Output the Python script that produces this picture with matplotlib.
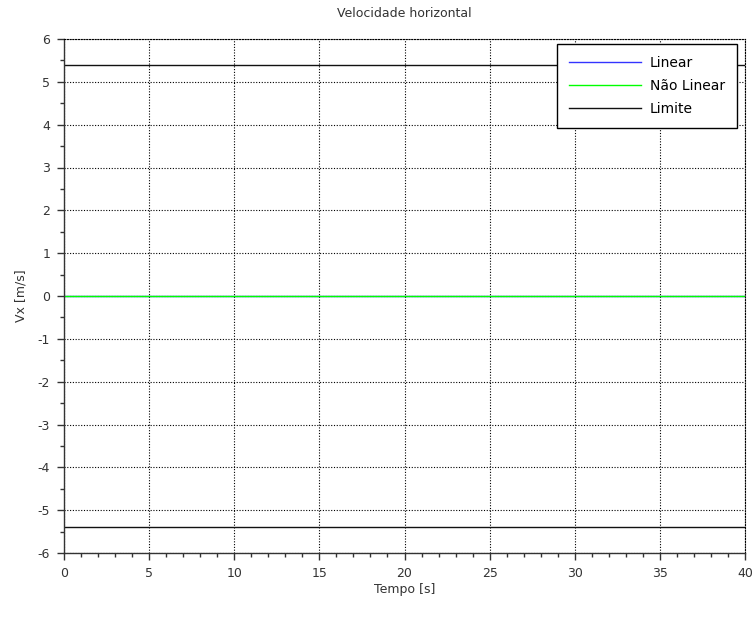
import matplotlib
matplotlib.use("Agg")
import matplotlib.pyplot as plt
from matplotlib.ticker import MultipleLocator

# Horizontal velocity data
tempo = [0, 40]
vx_linear = [0.0, 0.0]
vx_nao_linear = [0.0, 0.0]
vx_limite = 5.4

x_ticks = [0, 5, 10, 15, 20, 25, 30, 35, 40]
y_ticks = [-6, -5, -4, -3, -2, -1, 0, 1, 2, 3, 4, 5, 6]

plt.rcParams['font.family'] = ['DejaVu Sans']
plt.rcParams['axes.unicode_minus'] = False

fig = plt.figure(figsize=(7.56, 6.2), dpi=100)
ax = fig.add_axes([64/756, 1 - 553/620, (745 - 64)/756, (553 - 39)/620])

ax.plot(tempo, vx_linear, color='#3333ff', lw=1.0, label='Linear')
ax.plot(tempo, vx_nao_linear, color='#00ff00', lw=1.0, label='Não Linear')
ax.plot(tempo, [vx_limite] * len(tempo), color='#111111', lw=1.0, label='Limite')
ax.plot(tempo, [-vx_limite] * len(tempo), color='#111111', lw=1.0)

ax.set_xlim(0, 40)
ax.set_ylim(-6, 6)
ax.set_xticks(x_ticks)
ax.set_yticks(y_ticks)
ax.xaxis.set_minor_locator(MultipleLocator(1))
ax.yaxis.set_minor_locator(MultipleLocator(0.5))

ax.grid(True, which='major', color='black', linestyle=(0, (1, 1.5)), linewidth=0.8)
ax.tick_params(which='major', direction='out', length=5, width=1, colors='#333333',
               labelsize=9, labelcolor='#333333', pad=5)
ax.tick_params(which='minor', direction='out', length=3, width=1, colors='#333333')

for side in ['top', 'right']:
    ax.spines[side].set_linestyle((0, (1, 1.5)))
    ax.spines[side].set_linewidth(0.8)
for side in ['left', 'bottom']:
    ax.spines[side].set_linewidth(1.0)
    ax.spines[side].set_color('#333333')

ax.set_title('Velocidade horizontal', fontsize=9, color='#333333', pad=16)
ax.set_xlabel('Tempo [s]', fontsize=9, color='#333333', labelpad=2)
ax.set_ylabel('Vx [m/s]', fontsize=9, color='#333333', labelpad=7)

leg = ax.legend(loc='upper right', fontsize=10, frameon=True, fancybox=False,
                edgecolor='black', framealpha=1, handlelength=5.2, handletextpad=0.65,
                borderpad=0.85, borderaxespad=0, labelspacing=0.65,
                bbox_to_anchor=(0.988, 0.99))
leg.get_frame().set_linewidth(1.0)

fig.savefig('out.png', dpi=100)
